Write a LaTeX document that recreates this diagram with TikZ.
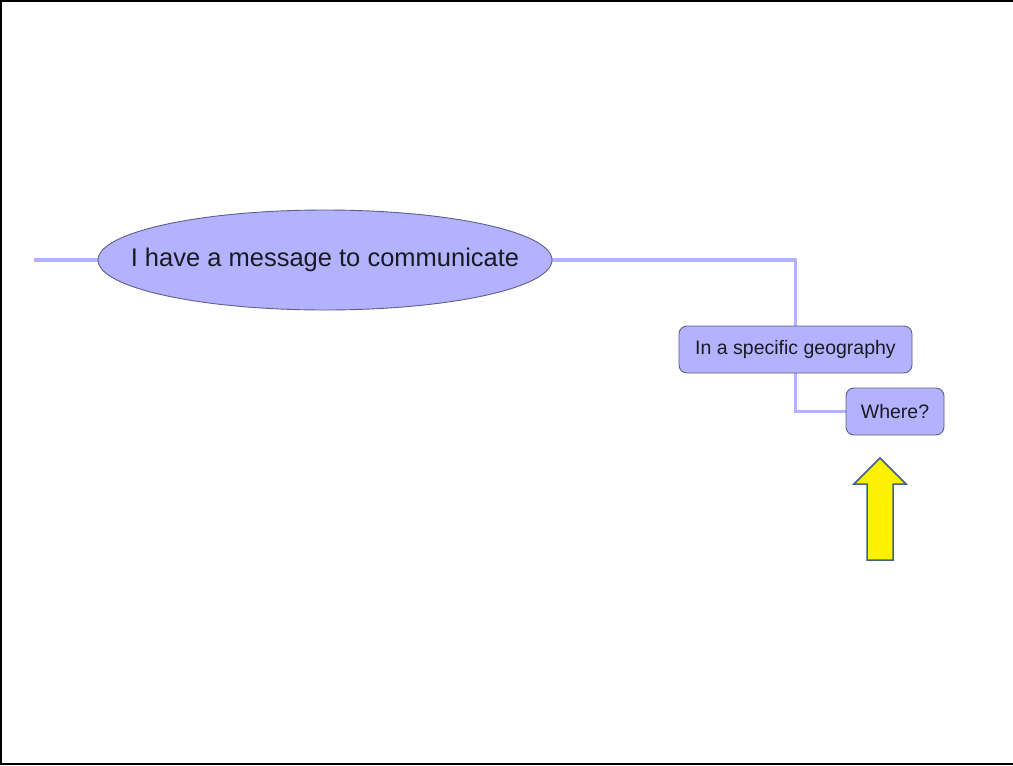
\documentclass[tikz,border=0pt]{standalone}
\usepackage{fontspec}
\setmainfont{Liberation Sans}
\usetikzlibrary{shapes.geometric,backgrounds}
\definecolor{nodefill}{HTML}{B2B2FF}
\definecolor{nodeline}{HTML}{5E5E86}
\definecolor{linkcol}{HTML}{B2B2FF}
\definecolor{txtcol}{HTML}{1A1A24}
\definecolor{arrowline}{HTML}{3F5F8F}
\tikzset{
  topic/.style={ellipse, draw=nodeline, fill=nodefill, line width=0.9pt,
    minimum width=454pt, minimum height=100pt,
    inner xsep=-120pt, inner ysep=0pt,
    text=txtcol, font=\fontsize{25.5}{28}\selectfont},
  sub/.style={rectangle, rounded corners=8pt, draw=nodeline, fill=nodefill,
    line width=0.9pt, minimum height=47pt, inner sep=0pt,
    text=txtcol, font=\fontsize{19.5}{22}\selectfont},
  link/.style={draw=linkcol, line width=3.2pt},
  frame/.style={draw=black, line width=2pt}
}
\begin{document}
\begin{tikzpicture}[x=1pt, y=-1pt]
  \useasboundingbox (0,0) rectangle (1013,766);
  % page frame (open on the right)
  \draw[frame] (1013,1) -- (1,1) -- (1,764) -- (1013,764);

  % nodes
  \node[topic] (main) at (325,260) {I have a message to communicate};
  \node[sub, minimum width=233pt] (geo) at (795.5,349.5) {In a specific geography};
  \node[sub, minimum width=98pt] (where) at (895,411.5) {Where?};
  \coordinate (stub) at (34,260);

  % connectors, behind the nodes
  \begin{scope}[on background layer]
    \draw[link] (stub) -- (main.west);
    \draw[link] (main.east) -| (geo.north);
    \draw[link] (geo.south) |- (where.west);
  \end{scope}

  % block arrow pointing up at the last node
  \draw[arrowline, fill=yellow, line width=1.5pt, line join=miter]
    (867,560) -- (867,484) -- (854,484) -- (880,458) -- (906,484)
    -- (893,484) -- (893,560) -- cycle;
\end{tikzpicture}
\end{document}
